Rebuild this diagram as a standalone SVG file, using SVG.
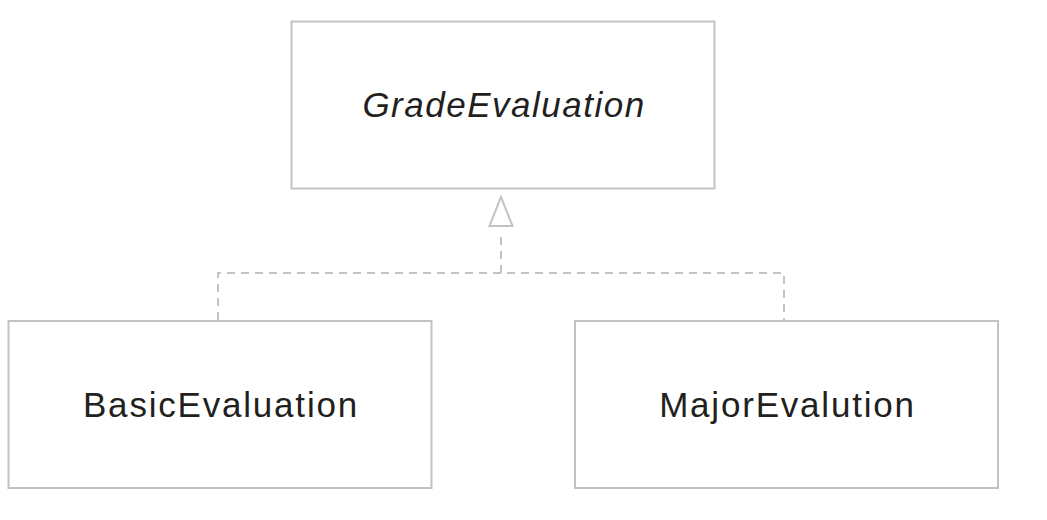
<svg xmlns="http://www.w3.org/2000/svg" width="1047" height="520" viewBox="0 0 1047 520">
<style>
.box{fill:#fff;stroke:#c2c2c2;stroke-width:2}
.lbl{font-family:"Liberation Sans",Arial,sans-serif;font-size:35px;fill:#231f20;text-anchor:middle;letter-spacing:1.8px}
.conn{fill:none;stroke:#c2c2c2;stroke-width:2;stroke-dasharray:8 6}
.head{fill:#fff;stroke:#c2c2c2;stroke-width:2}
</style>
<rect width="1047" height="520" fill="#fff"/>
<g id="connectors">
<path class="conn" d="M218 320 V273 H784 V320"/>
<path class="conn" d="M501 273 V233"/>
<polygon class="head" points="501,197 512.5,226 489.5,226"/>
</g>
<g id="GradeEvaluation">
<rect class="box" x="291.5" y="21.5" width="423" height="167"/>
<text class="lbl" x="504" y="117" font-style="italic" style="letter-spacing:1.5px">GradeEvaluation</text>
</g>
<g id="BasicEvaluation">
<rect class="box" x="8.5" y="321" width="423" height="167"/>
<text class="lbl" x="221" y="417">BasicEvaluation</text>
</g>
<g id="MajorEvalution">
<rect class="box" x="575" y="321" width="423" height="167"/>
<text class="lbl" x="787.5" y="417">MajorEvalution</text>
</g>
</svg>
